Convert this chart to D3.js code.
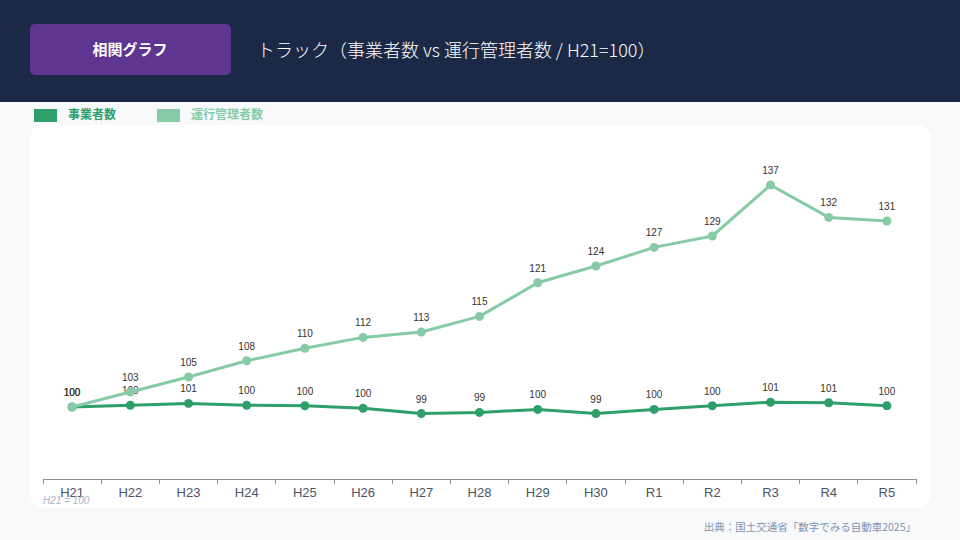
<meta charset="utf-8">
<style>
body { margin: 0; background: #f7f9fb; }
svg { display: block; font-family: "Liberation Sans", Arial, "Noto Sans CJK JP", sans-serif; }
.axis path, .axis line { stroke: #8a8f98; stroke-width: 1; shape-rendering: crispEdges; }
</style>
<body>
<div id="chart"></div>
<script src="https://cdn.jsdelivr.net/npm/d3@7/dist/d3.min.js"></script>
<script>
// years on x axis
var years = ["H21","H22","H23","H24","H25","H26","H27","H28","H29","H30","R1","R2","R3","R4","R5"];
// 事業者数 (H21=100)
var jigyosha = [100, 100.3, 100.6, 100.3, 100.2, 99.8, 98.9, 99.1, 99.6, 98.9, 99.6, 100.2, 100.8, 100.7, 100.2];
// 運行管理者数 (H21=100)
var unkou = [100, 102.5, 105.0, 107.7, 109.8, 111.6, 112.5, 115.1, 120.7, 123.5, 126.6, 128.5, 137.0, 131.6, 131.0];

var seriesNames = ["事業者数", "運行管理者数"];
var colors = ["#2e9e6b", "#86cba6"];

var W = 960, H = 540;
var svg = d3.select("#chart").append("svg").attr("width", W).attr("height", H);

// header
svg.append("rect").attr("x", 0).attr("y", 0).attr("width", W).attr("height", 102).attr("fill", "#1b2846");
svg.append("rect").attr("x", 30).attr("y", 24).attr("width", 201).attr("height", 51).attr("rx", 5).attr("fill", "#5e3590");
svg.append("text").attr("x", 130).attr("y", 50).attr("dy", "0.35em")
    .attr("text-anchor", "middle").attr("fill", "#fff")
    .style("font-family", "'Noto Sans CJK JP', sans-serif")
    .style("font-size", "15px").style("font-weight", "bold")
    .text("相関グラフ");
svg.append("text").attr("x", 257).attr("y", 51).attr("dy", "0.35em")
    .attr("fill", "#fff")
    .style("font-family", "'Noto Sans CJK JP', sans-serif")
    .style("font-size", "18px").style("font-weight", 300)
    .text("トラック（事業者数 vs 運行管理者数 / H21=100）");

// legend
var legendX = [34, 157];
seriesNames.forEach(function(name, i) {
    svg.append("rect").attr("x", legendX[i]).attr("y", 109).attr("width", 23).attr("height", 13).attr("fill", colors[i]);
    svg.append("text").attr("x", legendX[i] + 34).attr("y", 115).attr("dy", "0.35em")
        .attr("fill", colors[i])
        .style("font-family", "'Noto Sans CJK JP', sans-serif")
        .style("font-size", "12px").style("font-weight", "bold")
        .text(name);
});

// card
svg.append("rect").attr("x", 30).attr("y", 125).attr("width", 901).attr("height", 383).attr("rx", 14).attr("fill", "#fff");

var x = d3.scaleBand().domain(years).range([43, 916]).padding(0);
var y = d3.scaleLinear().domain([88, 142]).range([479, 155]);

// x axis
var xAxis = d3.axisBottom(x).tickSize(0).tickPadding(9);
var gx = svg.append("g").attr("class", "axis").attr("transform", "translate(0,479)").call(xAxis)
    .attr("font-family", "'Liberation Sans', Arial, sans-serif");
gx.select(".domain").attr("d", "M43,0H916");
gx.selectAll(".tick text").attr("fill", "#4a5568").style("font-size", "13px");
// boundary ticks between categories
var bounds = years.map(function(d) { return x(d); }).concat([916]);
gx.selectAll(".bnd").data(bounds).enter().append("line")
    .attr("x1", function(d) { return d; }).attr("x2", function(d) { return d; })
    .attr("y1", 0).attr("y2", 5)
    .attr("stroke", "#8a8f98").attr("shape-rendering", "crispEdges");

svg.append("text").attr("x", 43).attr("y", 504)
    .attr("fill", "#a9b4c6").style("font-size", "10px").style("font-style", "italic")
    .text("H21 = 100");

var line = d3.line()
    .x(function(d, i) { return x(years[i]) + x.bandwidth() / 2; })
    .y(function(d) { return y(d); });

[jigyosha, unkou].forEach(function(vals, s) {
    var g = svg.append("g");
    g.append("path").attr("d", line(vals))
        .attr("fill", "none").attr("stroke", colors[s]).attr("stroke-width", 3)
        .attr("stroke-linejoin", "round");
    g.selectAll("circle").data(vals).enter().append("circle")
        .attr("cx", function(d, i) { return x(years[i]) + x.bandwidth() / 2; })
        .attr("cy", function(d) { return y(d); })
        .attr("r", 4.5).attr("fill", colors[s]);
    g.selectAll("text").data(vals).enter().append("text")
        .attr("x", function(d, i) { return x(years[i]) + x.bandwidth() / 2; })
        .attr("y", function(d) { return y(d) - 11; })
        .attr("text-anchor", "middle").attr("fill", "#333")
        .style("font-size", "10px")
        .text(function(d) { return Math.round(d); });
});

// source
svg.append("text").attr("x", 916).attr("y", 527).attr("dy", "0.35em")
    .attr("text-anchor", "end").attr("fill", "#8294b0")
    .style("font-family", "'Noto Sans CJK JP', sans-serif")
    .style("font-size", "10.5px")
    .text("出典：国土交通省「数字でみる自動車2025」");
</script>
</body>
